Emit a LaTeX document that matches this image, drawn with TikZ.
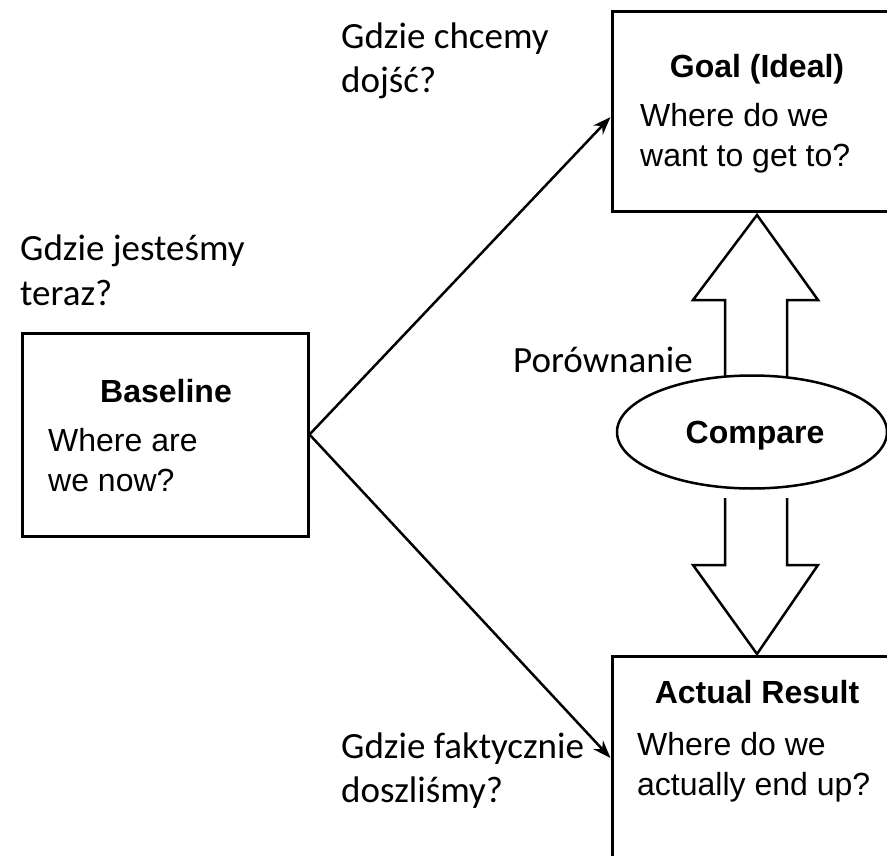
\documentclass[tikz,border=0pt]{standalone}
\usepackage{fontspec}
\newfontfamily\plfont{Carlito}
\newfontfamily\arfont{Liberation Sans}
\usetikzlibrary{arrows.meta,shapes.geometric}
\begin{document}
\begin{tikzpicture}[x=1pt,y=-1pt,
 box/.style={draw, line width=3pt, inner sep=0pt},
 conn/.style={line width=2.5pt, -{Stealth[length=18pt,width=13pt]}},
 blockarrow/.style={line width=2.5pt, line join=miter},
 pl/.style={font=\fontsize{37}{44}\selectfont\plfont, anchor=base west, inner sep=0pt, align=left},
 ttl/.style={font=\fontsize{32}{38}\selectfont\arfont\bfseries, anchor=base, inner sep=0pt},
 bdy/.style={font=\fontsize{32}{40}\selectfont\arfont, anchor=base west, inner sep=0pt, align=left},
]
\useasboundingbox (0,0) rectangle (887,856);
\begin{scope}
\clip (0,0) rectangle (887,856);
% boxes
\node[box, minimum width=286pt, minimum height=203pt] (baseline) at (165,434.5) {};
\node[box, minimum width=348pt, minimum height=200pt] (goal) at (786,112) {};
\node[box, minimum width=348pt, minimum height=210pt] (actual) at (786,761) {};
% box texts (base anchor = last line)
\node[ttl] (bt) at (166,402) {Baseline};
\node[bdy] (bb) at (48,491) {Where are\\we now?};
\node[ttl] (gt) at (757,78) {Goal (Ideal)};
\node[bdy] (gb) at (640,167) {Where do we\\want to get to?};
\node[ttl] (at) at (757,703) {Actual Result};
\node[bdy] (ab) at (637,795) {Where do we\\actually end up?};
% connectors
\draw[conn] (baseline.east) -- ([yshift=-5pt]goal.west);
\draw[conn] (baseline.east) -- ([yshift=3pt]actual.west);
% block arrows
\draw[blockarrow] (725,380) -- (725,300) -- (693,300) -- (757,215) -- (818,300) -- (787,300) -- (787,380);
\draw[blockarrow] (725,498) -- (725,565) -- (693,565) -- (757,654) -- (818,565) -- (787,565) -- (787,498);
\node[ellipse, draw, line width=2.5pt, fill=white, minimum width=270pt, minimum height=113pt, inner sep=0pt] (cmp) at (752,432) {};
\node[ttl] (ct) at (755,443) {Compare};
% Polish labels (base anchor = last line)
\node[pl] (q1) at (341,93) {Gdzie chcemy\\dojść?};
\node[pl] (q2) at (20,305) {Gdzie jesteśmy\\teraz?};
\node[pl] (q3) at (513,372) {Porównanie};
\node[pl] (q4) at (341,802) {Gdzie faktycznie\\doszliśmy?};
\end{scope}
\end{tikzpicture}
\end{document}
